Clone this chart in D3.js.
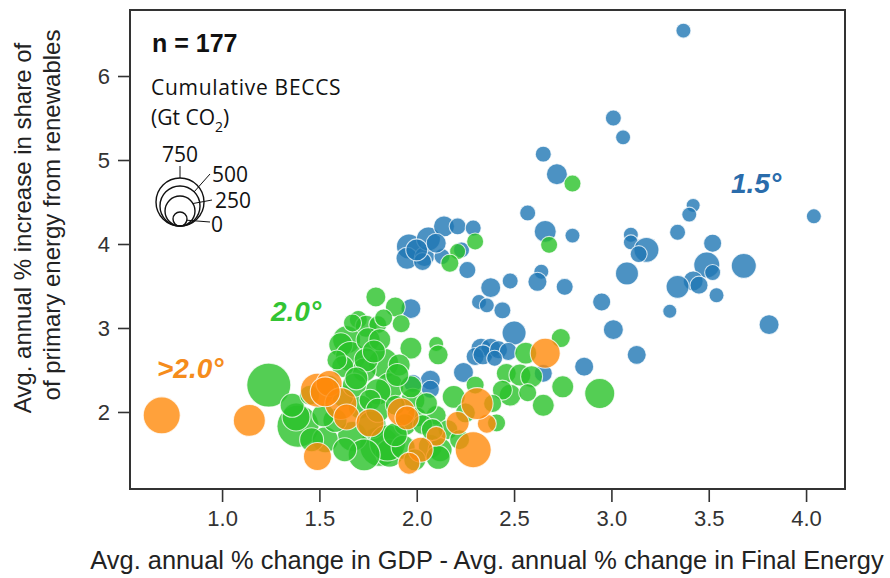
<!DOCTYPE html>
<html>
<head>
<meta charset="utf-8">
<script src="https://cdn.jsdelivr.net/npm/d3@7"></script>
<style>
  body { margin: 0; background: #fff; }
  text { font-family: "Liberation Sans", Arial, sans-serif; }
</style>
</head>
<body>
<svg id="chart" width="890" height="578"></svg>
<script>
// Axis ticks
const xTicks = [1.0, 1.5, 2.0, 2.5, 3.0, 3.5, 4.0];
const yTicks = [2, 3, 4, 5, 6];
// Size legend entries (cumulative BECCS, Gt CO2)
const sizeLegend = [750, 500, 250, 0];

// Scenarios: [GDP - final energy change, renewables share increase, cumulative BECCS]
const scen15 = [
  [3.37,6.54,10],[3.01,5.50,21],[3.06,5.27,10],[2.65,5.07,21],[2.72,4.83,87],
  [2.57,4.37,21],[2.66,4.15,102],[2.80,4.10,10],[3.10,4.11,10],[3.10,4.02,10],
  [3.18,3.93,153],[3.14,3.88,33],[3.34,4.14,21],[3.42,4.46,0],[3.40,4.35,10],
  [3.52,4.01,46],[3.49,3.75,171],[3.42,3.56,72],[3.45,3.51,46],[3.52,3.66,21],
  [3.54,3.39,10],[3.68,3.74,153],[4.04,4.33,10],[3.34,3.49,118],[3.30,3.20,0],
  [3.08,3.65,118],[2.95,3.31,46],[2.76,3.49,33],[3.01,2.98,72],[3.81,3.04,72],
  [3.13,2.68,59],[2.86,2.54,59],[2.64,3.67,10],[2.62,3.55,59],[2.38,3.48,72],
  [2.48,3.56,21],[2.32,3.31,10],[2.36,3.27,10],[2.44,3.21,33],[2.50,2.94,135],
  [2.33,2.76,72],[2.38,2.76,72],[2.30,2.66,46],[2.34,2.68,72],[2.42,2.74,46],
  [2.47,2.72,46],[2.40,2.64,21],[2.65,2.46,46],[2.24,2.47,72],[2.07,2.38,72],
  [2.07,2.27,46],[1.98,2.34,46],[1.97,3.23,72],[1.96,3.97,153],[1.95,3.83,102],
  [2.04,3.85,72],[2.03,3.79,46],[2.06,4.06,135],[2.14,4.21,87],[2.21,4.21,33],
  [2.29,4.19,21],[2.13,3.85,21],[2.26,3.69,33],[2.23,3.93,21],[2.00,3.93,102],
  [2.10,4.01,72]
];
const scen20 = [
  [1.24,2.32,619],[1.39,1.83,558],[1.38,1.94,209],[1.36,2.08,135],[1.79,3.37,72],
  [1.89,3.25,72],[1.70,3.10,46],[1.74,3.02,102],[1.80,3.04,46],[1.83,3.12,46],
  [1.64,2.86,209],[1.61,2.80,135],[1.66,2.66,250],[1.75,2.86,135],[1.83,2.58,250],
  [1.97,2.76,102],[1.73,2.50,135],[1.62,2.54,102],[1.86,2.30,209],[1.59,2.62,72],
  [1.74,2.62,135],[1.67,3.06,46],[1.80,2.24,171],[1.71,2.06,135],[1.62,2.19,102],
  [1.81,1.59,500],[1.67,1.71,250],[1.86,1.51,209],[1.77,1.85,209],[1.85,1.63,391],
  [1.93,1.58,135],[2.07,1.59,135],[2.12,1.55,135],[2.11,1.46,135],[1.98,2.14,135],
  [2.00,1.94,72],[2.10,1.96,72],[2.19,2.18,118],[2.10,2.81,10],[2.11,2.68,72],
  [1.97,2.30,102],[2.30,4.03,33],[2.21,3.91,21],[2.17,3.77,46],[2.80,4.72,33],
  [2.68,3.99,33],[2.56,2.70,102],[2.74,2.88,59],[2.46,2.46,72],[2.53,2.44,102],
  [2.59,2.42,102],[2.48,2.20,102],[2.44,2.26,72],[2.75,2.30,102],[2.94,2.22,250],
  [2.65,2.08,102],[2.39,2.10,46],[2.41,1.87,46],[1.53,1.67,171],[1.58,1.90,135],
  [1.45,2.20,72],[1.68,2.32,135],[1.76,2.14,102],[1.91,2.56,102],[1.94,1.85,102],
  [2.03,1.85,72],[2.16,1.79,72],[2.22,1.67,72],[1.99,1.43,102],[1.73,1.49,294],
  [1.89,1.73,135],[2.30,2.32,46],[2.57,2.23,46],[1.80,2.02,135],[1.55,2.32,72],
  [1.89,2.08,72],[1.81,2.86,102],[1.63,1.55,135],[1.46,1.67,135],[2.08,1.79,102],
  [1.78,2.72,118],[1.90,2.44,118],[1.69,2.40,118],[2.05,2.10,102],[1.52,1.96,118],
  [2.25,1.99,72],[1.92,3.05,46]
];
const scenAbove = [
  [0.69,1.96,417],[1.14,1.90,294],[1.49,1.47,209],[1.49,2.26,342],[1.55,2.34,171],
  [1.61,2.10,294],[1.64,1.94,171],[1.76,1.87,209],[1.53,2.24,250],[1.92,2.00,209],
  [2.10,1.71,72],[2.02,1.55,153],[1.96,1.39,102],[2.21,1.87,118],[2.36,1.86,59],
  [2.31,2.10,294],[2.29,1.55,391],[2.66,2.70,250],[1.95,1.93,135]
];

const svg = d3.select('#chart');
const frame = { left: 130, right: 845, top: 10, bottom: 489 };

const x = d3.scaleLinear().domain([0.527, 4.2]).range([frame.left, frame.right]);
const y = d3.scaleLinear().domain([1.083, 6.786]).range([frame.bottom, frame.top]);
// Bubble area grows linearly with cumulative BECCS
const area = d3.scaleLinear().domain([0, 750]).range([49, 576]);
const radius = b => Math.sqrt(area(b));

const groups = [
  { name: '1.5°',  data: scen15,    fill: '#1f77b4', text: '#2a6cab', lx: 731, ly: 193 },
  { name: '2.0°',  data: scen20,    fill: '#29c229', text: '#33c433', lx: 271, ly: 321 },
  { name: '>2.0°', data: scenAbove, fill: '#ff8a0a', text: '#f58c1c', lx: 157, ly: 378 }
];

// Bubbles
const plot = svg.append('g');
groups.forEach(g => {
  plot.append('g').selectAll('circle')
    .data(g.data)
    .join('circle')
    .attr('cx', d => x(d[0]))
    .attr('cy', d => y(d[1]))
    .attr('r', d => radius(d[2]))
    .attr('fill', g.fill)
    .attr('fill-opacity', 0.8)
    .attr('stroke', '#ffffff')
    .attr('stroke-opacity', 0.75)
    .attr('stroke-width', 1.1);
});

// Group labels
groups.forEach(g => {
  svg.append('text')
    .attr('x', g.lx).attr('y', g.ly)
    .attr('fill', g.text)
    .style('font-size', '28px')
    .style('font-weight', 'bold')
    .style('font-style', 'italic')
    .text(g.name);
});

// Axes
const xAxis = svg.append('g')
  .attr('transform', `translate(0,${frame.bottom})`)
  .call(d3.axisBottom(x).tickValues(xTicks).tickFormat(d3.format('.1f')).tickSize(13).tickPadding(8));
const yAxis = svg.append('g')
  .attr('transform', `translate(${frame.left},0)`)
  .call(d3.axisLeft(y).tickValues(yTicks).tickFormat(d3.format('d')).tickSize(12).tickPadding(8));
[xAxis, yAxis].forEach(a => {
  a.select('.domain').remove();
  a.selectAll('.tick line').attr('stroke', '#333').attr('stroke-width', 1.6);
  a.selectAll('.tick text')
    .attr('fill', '#333')
    .style('font-family', '"Liberation Sans", Arial, sans-serif')
    .style('font-size', '22px');
});

// Frame
svg.append('rect')
  .attr('x', frame.left).attr('y', frame.top)
  .attr('width', frame.right - frame.left).attr('height', frame.bottom - frame.top)
  .attr('fill', 'none').attr('stroke', '#333').attr('stroke-width', 2);

// Axis titles
svg.append('text')
  .attr('x', 487).attr('y', 569)
  .attr('text-anchor', 'middle')
  .attr('fill', '#222')
  .style('font-size', '25.4px')
  .text('Avg. annual % change in GDP - Avg. annual % change in Final Energy');

const yTitle = svg.append('text')
  .attr('transform', 'rotate(-90)')
  .attr('text-anchor', 'middle')
  .attr('fill', '#222')
  .style('font-size', '24px');
yTitle.append('tspan').attr('x', -228).attr('y', 31).text('Avg. annual % increase in share of');
yTitle.append('tspan').attr('x', -215).attr('y', 60).text('of primary energy from renewables');

// Sample count
svg.append('text')
  .attr('x', 152).attr('y', 52)
  .attr('fill', '#111')
  .style('font-size', '25px')
  .style('font-weight', 'bold')
  .text('n = 177');

// Size legend
const leg = svg.append('g');
const legFont = '"Open Sans", Lato, sans-serif';
leg.append('text').attr('x', 151).attr('y', 95)
  .style('font-family', legFont).style('font-size', '21px').style('letter-spacing', '0.7px')
  .attr('fill', '#111')
  .text('Cumulative BECCS');
const unit = leg.append('text').attr('x', 151).attr('y', 125)
  .style('font-family', legFont).style('font-size', '21px').attr('fill', '#111');
unit.append('tspan').text('(Gt CO');
unit.append('tspan').attr('dy', 7).style('font-size', '14px').text('2');
unit.append('tspan').attr('dy', -7).text(')');

const lcx = 180, lbase = 226;
// leader geometry: anchor angle on the circle (degrees above horizontal), label position
const legLayout = {
  750: { ang: 90, lx: 180, ly: 162, anchor: 'middle', ex: 180, ey: 166 },
  500: { ang: 45, lx: 212, ly: 182, anchor: 'start', ex: 210, ey: 174 },
  250: { ang: 30, lx: 215, ly: 208, anchor: 'start', ex: 212, ey: 200 },
  0:   { ang: -10, lx: 211, ly: 232, anchor: 'start', ex: 210, ey: 222 }
};
sizeLegend.forEach(v => {
  const rr = radius(v);
  const cy = lbase - rr;
  leg.append('circle')
    .attr('cx', lcx).attr('cy', cy).attr('r', rr)
    .attr('fill', 'none').attr('stroke', '#111').attr('stroke-width', 1.4);
  const L = legLayout[v];
  const a = L.ang * Math.PI / 180;
  leg.append('line')
    .attr('x1', lcx + rr * Math.cos(a)).attr('y1', cy - rr * Math.sin(a))
    .attr('x2', L.ex).attr('y2', L.ey)
    .attr('stroke', '#111').attr('stroke-width', 1);
  leg.append('text')
    .attr('x', L.lx).attr('y', L.ly)
    .attr('text-anchor', L.anchor)
    .style('font-family', legFont).style('font-size', '21px').attr('fill', '#111')
    .text(v);
});
</script>
</body>
</html>
